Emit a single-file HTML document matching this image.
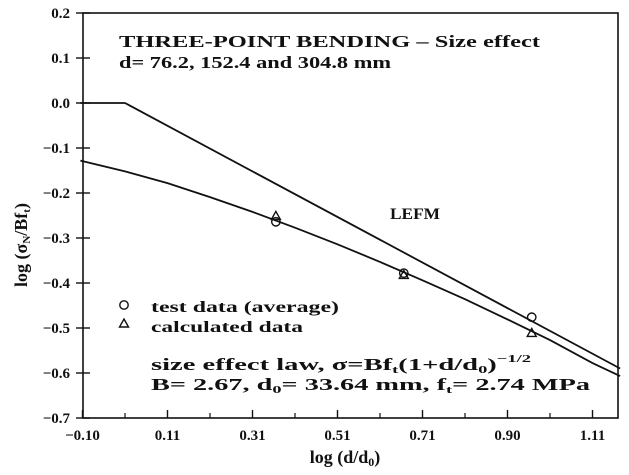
<!DOCTYPE html>
<html>
<head>
<meta charset="utf-8">
<style>
html,body{margin:0;padding:0;background:#fff;}
svg{display:block;}
text{font-family:"Liberation Serif",serif;fill:#111;}
</style>
</head>
<body>
<svg id="chart" width="629" height="475" viewBox="0 0 629 475" xmlns="http://www.w3.org/2000/svg">
  <rect x="83" y="13" width="535" height="405" fill="none" stroke="#111" stroke-width="1.6"/>
  <g id="axes"></g>
  <g id="marks"></g>
  <text x="119" y="47" font-size="17" font-weight="bold" textLength="421" lengthAdjust="spacingAndGlyphs">THREE-POINT BENDING – Size effect</text>
  <text x="119" y="68" font-size="17" font-weight="bold" textLength="272" lengthAdjust="spacingAndGlyphs">d= 76.2, 152.4 and 304.8 mm</text>
  <text x="390" y="219" font-size="16" font-weight="bold" textLength="50" lengthAdjust="spacingAndGlyphs">LEFM</text>
  <circle cx="124" cy="305" r="4.2" fill="none" stroke="#111" stroke-width="1.4"/>
  <text x="151" y="312" font-size="16" font-weight="bold" textLength="188" lengthAdjust="spacingAndGlyphs">test data (average)</text>
  <path d="M124 319 L128.5 327 L119.5 327 Z" fill="none" stroke="#111" stroke-width="1.4"/>
  <text x="151" y="332" font-size="16" font-weight="bold" textLength="152" lengthAdjust="spacingAndGlyphs">calculated data</text>
  <text x="151" y="370" font-size="17" font-weight="bold" textLength="380" lengthAdjust="spacingAndGlyphs">size effect law, <tspan>σ</tspan>=Bf<tspan font-size="11" dy="3">t</tspan><tspan dy="-3">(1+d/d</tspan><tspan font-size="11" dy="3">0</tspan><tspan dy="-3">)</tspan><tspan font-size="11" dy="-8">−1/2</tspan></text>
  <text x="151" y="390" font-size="17" font-weight="bold" textLength="439" lengthAdjust="spacingAndGlyphs">B= 2.67, d<tspan font-size="11" dy="3">0</tspan><tspan dy="-3">= 33.64 mm, f</tspan><tspan font-size="11" dy="3">t</tspan><tspan dy="-3">= 2.74 MPa</tspan></text>
  <text x="345" y="463" font-size="18" font-weight="bold" text-anchor="middle">log (d/d<tspan font-size="12" dy="3">0</tspan><tspan dy="-3">)</tspan></text>
  <text transform="translate(27,245) rotate(-90)" font-size="18" font-weight="bold" text-anchor="middle">log (σ<tspan font-size="11" dy="3">N</tspan><tspan dy="-3">/Bf</tspan><tspan font-size="11" dy="3">t</tspan><tspan dy="-3">)</tspan></text>
</svg>
<script>
// ---- data ----
const xTickValues = [-0.1, 0.1, 0.3, 0.5, 0.7, 0.9, 1.1];
const xTickLabels = ["-0.10", "0.11", "0.31", "0.51", "0.71", "0.90", "1.11"];
const yTickValues = [0.2, 0.1, 0.0, -0.1, -0.2, -0.3, -0.4, -0.5, -0.6, -0.7];
const yTickLabels = ["0.2", "0.1", "0.0", "\u22120.1", "\u22120.2", "\u22120.3", "\u22120.4", "\u22120.5", "\u22120.6", "\u22120.7"];
const sizeX = [-0.105, 0.0, 0.1, 0.2, 0.3, 0.4, 0.5, 0.6, 0.7, 0.8, 0.9, 1.0, 1.1, 1.165];
const sizeY = [-0.128, -0.152, -0.178, -0.209, -0.242, -0.277, -0.314, -0.353, -0.394, -0.436, -0.481, -0.527, -0.578, -0.607];
const lefmX = [-0.105, 0.0, 1.165];
const lefmY = [0.0, 0.0, -0.59];
const dataX = [0.355, 0.656, 0.957];
const testY = [-0.264, -0.378, -0.476];
const calcY = [-0.251, -0.382, -0.511];

// ---- scales ----
function sx(v){ return 125 + v*425; }
function sy(v){ return 103 - v*450; }

const NS = "http://www.w3.org/2000/svg";
const axes = document.getElementById('axes');
const marks = document.getElementById('marks');
function mk(tag, attrs, parent){
  const e = document.createElementNS(NS, tag);
  for (const k in attrs) e.setAttribute(k, attrs[k]);
  parent.appendChild(e);
  return e;
}

xTickValues.forEach((v, i) => {
  const x = sx(v);
  const t = mk('line', {x1:x, x2:x, y1:418, y2:410, stroke:'#111', 'stroke-width':1.4}, axes);
  
  
  if (i < xTickValues.length - 1) {
    const m = sx(v + 0.1);
    const mt = mk('line', {x1:m, x2:m, y1:418, y2:413, stroke:'#111', 'stroke-width':1.2}, axes);
    
    
  }
  const lb = mk('text', {x:x, y:440, 'font-size':15, 'font-weight':'bold', 'text-anchor':'middle'}, axes);
  lb.textContent = xTickLabels[i].replace('-', '\u2212');
  
  
});

yTickValues.forEach((v, i) => {
  const y = sy(v);
  const t = mk('line', {x1:76, x2:90, y1:y, y2:y, stroke:'#111', 'stroke-width':1.4}, axes);
  
  
  const lb = mk('text', {x:70, y:y+5, 'font-size':15, 'font-weight':'bold', 'text-anchor':'end'}, axes);
  lb.textContent = yTickLabels[i];
  
  
});

function linePath(xs, ys){
  return xs.map((v, i) => (i ? 'L' : 'M') + sx(v).toFixed(1) + ' ' + sy(ys[i]).toFixed(1)).join(' ');
}
const sl = mk('path', {d:linePath(sizeX, sizeY), fill:'none', stroke:'#111', 'stroke-width':1.8}, marks);


const ll = mk('path', {d:linePath(lefmX, lefmY), fill:'none', stroke:'#111', 'stroke-width':1.8}, marks);



dataX.forEach((v, i) => {
  const x = sx(v);
  const c = mk('circle', {cx:x, cy:sy(testY[i]), r:4.2, fill:'none', stroke:'#111', 'stroke-width':1.4}, marks);
  
  
  const y = sy(calcY[i]);
  const tr = mk('path', {d:`M${x} ${y-4.5} L${x+4.5} ${y+3.5} L${x-4.5} ${y+3.5} Z`, fill:'none', stroke:'#111', 'stroke-width':1.4}, marks);
  
  
});
</script>
</body>
</html>
